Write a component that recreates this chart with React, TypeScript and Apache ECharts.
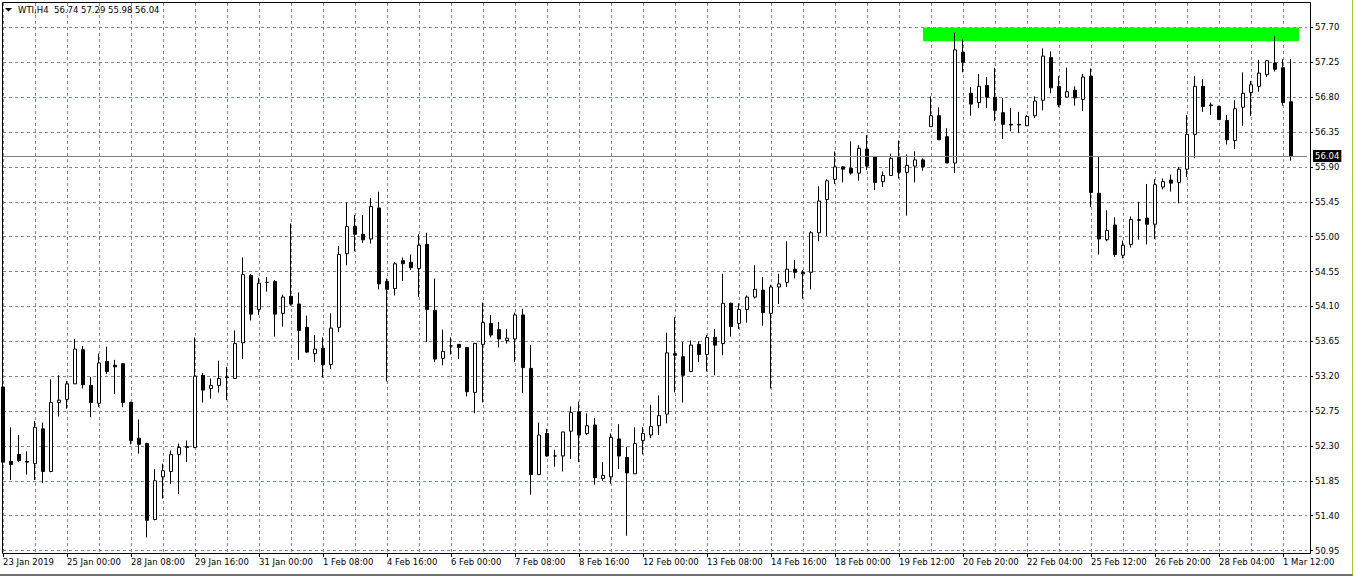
import React, { useEffect, useRef } from 'react';
import * as echarts from 'echarts';

// ---- data ----
const tickLabels = [
  '23 Jan 2019', '25 Jan 00:00', '28 Jan 08:00', '29 Jan 16:00', '31 Jan 00:00',
  '1 Feb 08:00', '4 Feb 16:00', '6 Feb 00:00', '7 Feb 08:00', '8 Feb 16:00',
  '12 Feb 00:00', '13 Feb 08:00', '14 Feb 16:00', '18 Feb 00:00', '19 Feb 12:00',
  '20 Feb 20:00', '22 Feb 04:00', '25 Feb 12:00', '26 Feb 20:00', '28 Feb 04:00',
  '1 Mar 12:00',
];

const opens = [
  53.06, 52.10, 52.19, 52.10, 52.07, 52.52, 51.97, 52.86, 52.90, 53.10,
  53.54, 53.08, 52.85, 53.39, 53.34, 53.36, 52.86, 52.40, 52.33, 51.35,
  51.90, 51.97, 52.19, 52.28, 52.28, 53.21, 53.04, 53.08, 53.18, 53.17,
  53.63, 54.50, 54.06, 54.41, 54.42, 54.01, 54.23, 54.13, 53.83, 53.49,
  53.56, 53.35, 53.83, 54.78, 55.13, 55.03, 54.97, 55.37, 54.42, 54.33,
  54.69, 54.67, 54.59, 54.90, 54.05, 53.43, 53.59, 53.61, 53.57, 52.99,
  53.61, 53.88, 53.80, 53.66, 53.68, 53.99, 53.30, 51.93, 52.46, 52.17,
  52.17, 52.49, 52.74, 52.46, 52.57, 51.88, 51.90, 52.39, 52.15, 51.94,
  52.37, 52.44, 52.56, 52.71, 53.49, 53.45, 53.26, 53.61, 53.48, 53.70,
  53.62, 54.14, 53.88, 54.06, 54.22, 54.31, 54.01, 54.35, 54.41, 54.58,
  54.54, 54.54, 55.05, 55.48, 55.74, 55.90, 55.88, 55.82, 56.13, 56.03,
  55.71, 55.79, 56.02, 55.83, 55.91, 55.99, 56.42, 56.56, 56.29, 55.95,
  57.38, 56.85, 56.73, 56.95, 56.80, 56.60, 56.45, 56.44, 56.43, 56.56,
  56.76, 57.31, 56.94, 56.80, 56.89, 56.77, 57.07, 55.56, 54.96, 55.15,
  54.76, 54.90, 55.21, 55.24, 55.16, 55.64, 55.73, 55.70, 55.87, 56.32,
  56.94, 56.70, 56.68, 56.50, 56.24, 56.67, 56.86, 56.94, 57.09, 57.24,
  57.18, 56.74,
];
const highs = [
  53.08, 52.54, 52.44, 52.23, 52.62, 52.60, 53.16, 53.21, 53.14, 53.68,
  53.59, 53.19, 53.49, 53.58, 53.41, 53.37, 52.87, 52.64, 52.34, 52.00,
  52.07, 52.24, 52.33, 52.37, 53.70, 53.24, 53.17, 53.40, 53.32, 53.79,
  54.73, 54.52, 54.47, 54.48, 54.44, 54.25, 55.17, 54.28, 53.98, 53.73,
  53.70, 54.01, 54.88, 55.44, 55.28, 55.28, 55.50, 55.58, 54.46, 54.67,
  54.73, 54.77, 55.03, 55.05, 54.46, 53.80, 53.70, 53.61, 53.57, 53.63,
  54.15, 53.99, 53.90, 53.81, 54.02, 54.07, 53.60, 52.60, 52.52, 52.25,
  52.48, 52.81, 52.87, 52.72, 52.66, 52.09, 52.46, 52.58, 52.29, 52.54,
  52.54, 52.83, 52.95, 53.76, 53.96, 53.64, 53.66, 53.65, 53.73, 53.81,
  54.52, 54.15, 54.14, 54.24, 54.63, 54.48, 54.38, 54.52, 54.94, 54.70,
  54.57, 55.07, 55.65, 55.74, 56.10, 55.91, 56.23, 56.18, 56.31, 56.03,
  55.84, 56.07, 56.24, 56.06, 56.10, 56.01, 56.81, 56.67, 56.40, 57.63,
  57.55, 56.93, 57.10, 57.06, 57.18, 56.79, 56.66, 56.61, 56.57, 56.81,
  57.43, 57.39, 57.07, 57.18, 56.94, 57.10, 57.17, 56.04, 55.34, 55.25,
  54.95, 55.26, 55.45, 55.68, 55.74, 55.75, 55.80, 55.90, 56.57, 57.07,
  57.03, 56.73, 56.69, 56.57, 56.76, 57.12, 57.01, 57.28, 57.28, 57.59,
  57.29, 57.29,
];
const lows = [
  51.58, 51.86, 52.09, 51.93, 51.86, 51.82, 51.96, 52.68, 52.78, 53.10,
  53.04, 52.67, 52.80, 53.23, 52.97, 52.80, 52.32, 52.20, 51.12, 51.34,
  51.62, 51.81, 51.68, 52.09, 52.27, 52.86, 52.91, 52.99, 52.89, 53.17,
  53.42, 53.92, 53.99, 54.29, 53.71, 53.84, 54.11, 53.41, 53.50, 53.38,
  53.18, 53.29, 53.77, 54.63, 54.81, 54.92, 54.91, 54.32, 53.13, 54.24,
  54.43, 54.57, 54.22, 53.64, 53.38, 53.34, 53.48, 53.42, 52.94, 52.72,
  52.86, 53.70, 53.57, 53.62, 53.38, 52.98, 51.67, 51.93, 52.16, 52.03,
  51.97, 52.13, 52.09, 52.44, 51.80, 51.85, 51.81, 52.00, 51.14, 51.94,
  52.19, 52.40, 52.44, 52.59, 52.99, 52.86, 53.25, 53.38, 53.26, 53.21,
  53.47, 53.71, 53.81, 53.89, 54.20, 53.85, 53.04, 54.13, 54.35, 54.46,
  54.20, 54.32, 54.94, 55.01, 55.68, 55.70, 55.80, 55.72, 55.86, 55.60,
  55.64, 55.79, 55.75, 55.27, 55.70, 55.85, 56.42, 56.25, 55.95, 55.82,
  57.12, 56.56, 56.66, 56.66, 56.49, 56.26, 56.36, 56.34, 56.43, 56.53,
  56.63, 56.85, 56.67, 56.80, 56.69, 56.62, 55.38, 54.77, 54.94, 54.74,
  54.72, 54.86, 54.96, 54.90, 54.97, 55.61, 55.58, 55.43, 55.77, 56.01,
  56.61, 56.57, 56.51, 56.19, 56.13, 56.43, 56.56, 56.87, 57.06, 57.13,
  56.69, 55.98,
];
const closes = [
  52.09, 52.06, 52.11, 52.09, 52.54, 51.97, 52.86, 52.89, 53.10, 53.55,
  53.09, 52.86, 53.37, 53.26, 53.32, 52.86, 52.37, 52.32, 51.34, 51.85,
  51.98, 52.19, 52.28, 52.29, 53.20, 53.02, 53.08, 53.17, 53.19, 53.62,
  54.51, 54.00, 54.40, 54.41, 54.00, 54.22, 54.13, 53.79, 53.51, 53.55,
  53.35, 53.82, 54.77, 55.13, 55.03, 54.96, 55.39, 54.39, 54.32, 54.65,
  54.65, 54.60, 54.89, 54.06, 53.42, 53.52, 53.59, 53.57, 53.00, 53.62,
  53.89, 53.73, 53.68, 53.69, 53.99, 53.31, 51.93, 52.44, 52.17, 52.17,
  52.48, 52.73, 52.44, 52.56, 51.89, 51.92, 52.41, 52.17, 51.95, 52.33,
  52.46, 52.55, 52.69, 53.50, 53.47, 53.21, 53.60, 53.48, 53.70, 53.60,
  54.14, 53.84, 54.06, 54.22, 54.32, 54.02, 54.35, 54.39, 54.58, 54.54,
  54.52, 55.05, 55.46, 55.72, 55.90, 55.87, 55.82, 56.14, 55.91, 55.70,
  55.79, 56.01, 55.83, 55.92, 55.99, 55.90, 56.56, 56.25, 55.95, 57.41,
  57.25, 56.71, 56.94, 56.80, 56.63, 56.45, 56.44, 56.45, 56.55, 56.75,
  57.33, 56.92, 56.70, 56.87, 56.79, 57.06, 55.57, 54.97, 55.08, 54.77,
  54.89, 55.22, 55.22, 55.16, 55.67, 55.71, 55.69, 55.87, 56.32, 56.94,
  56.68, 56.69, 56.51, 56.25, 56.65, 56.85, 56.96, 57.11, 57.27, 57.16,
  56.73, 56.04,
];

const symbolTitle = 'WTI,H4';
const lastPrice = 56.04;
const priceMin = 50.95;
const priceMax = 57.7;
const priceStep = 0.45;
const zoneLow = 57.52;
const zoneHigh = 57.7;
const zoneStartIndex = 115;
const zoneEndIndex = 162;
const slotCount = 164; // 162 bars + 2 empty slots on the right

export default function App() {
  const ref = useRef<HTMLDivElement>(null);

  useEffect(() => {
    if (!ref.current) return;
    const chart = echarts.init(ref.current, undefined, { renderer: 'svg' });

    const categories = Array.from({ length: slotCount }, (_, k) =>
      k % 8 === 0 && tickLabels[k / 8] ? tickLabels[k / 8] : 'c' + k
    );
    const candleData = opens.map((o, i) => [o, closes[i], lows[i], highs[i]]);
    const font = 'DejaVu Sans';
    const gridColor = '#778899';
    const titleText =
      symbolTitle + '  ' + [opens[opens.length - 1], highs[highs.length - 1], lows[lows.length - 1], closes[closes.length - 1]]
        .map((v) => v.toFixed(2))
        .join(' ');

    chart.setOption({
      animation: false,
      backgroundColor: '#ffffff',
      grid: [
        { left: 3, top: 3, width: 1304, height: 550 },
        { left: 3, top: 27.4, width: 1304, height: 523.1 },
      ],
      xAxis: [
        {
          type: 'category',
          gridIndex: 0,
          data: categories,
          boundaryGap: false,
          axisLine: { show: false },
          axisTick: { show: true, interval: 7, length: 4, lineStyle: { color: '#000' } },
          axisLabel: {
            interval: 7,
            margin: 4,
            align: 'left',
            color: '#000',
            fontFamily: font,
            fontSize: 8.5,
            formatter: (v: string) => (v.charAt(0) === 'c' ? '' : v),
          },
          splitLine: { show: true, interval: 3, lineStyle: { color: gridColor, type: [3, 3], width: 1 } },
        },
        {
          type: 'category',
          gridIndex: 1,
          data: categories,
          boundaryGap: false,
          show: false,
        },
      ],
      yAxis: [
        { type: 'value', gridIndex: 0, show: false, min: 0, max: 1, splitLine: { show: false } },
        {
          type: 'value',
          gridIndex: 1,
          position: 'right',
          offset: 3,
          min: priceMin,
          max: priceMax,
          interval: priceStep,
          axisLine: { show: false },
          axisTick: { show: true, length: 3, lineStyle: { color: '#000' } },
          axisLabel: {
            margin: 5,
            color: '#000',
            fontFamily: font,
            fontSize: 8.5,
            formatter: (v: number) => v.toFixed(2),
          },
          splitLine: { show: true, lineStyle: { color: gridColor, type: [3, 3], width: 1 } },
        },
      ],
      series: [
        {
          type: 'line',
          xAxisIndex: 1,
          yAxisIndex: 1,
          data: [],
          z: 1,
          silent: true,
          markArea: {
            silent: true,
            itemStyle: { color: '#00ff00', opacity: 1 },
            data: [[
              { xAxis: categories[zoneStartIndex], yAxis: zoneLow },
              { xAxis: categories[zoneEndIndex], yAxis: zoneHigh },
            ]],
          },
          markLine: {
            silent: true,
            symbol: ['none', 'none'],
            lineStyle: { color: '#808080', type: 'solid', width: 1 },
            label: {
              show: true,
              position: 'end',
              distance: 6,
              formatter: lastPrice.toFixed(2),
              color: '#fff',
              backgroundColor: '#000',
              padding: [2, 2, 1, 2],
              fontFamily: font,
              fontSize: 8.5,
            },
            data: [{ yAxis: lastPrice }],
          },
        },
        {
          type: 'candlestick',
          xAxisIndex: 1,
          yAxisIndex: 1,
          data: candleData,
          barWidth: 4,
          clip: false,
          z: 3,
          itemStyle: {
            color: '#ffffff',
            color0: '#000000',
            borderColor: '#000000',
            borderColor0: '#000000',
            borderColorDoji: '#000000',
            borderWidth: 1,
          },
        },
      ],
      graphic: [
        {
          type: 'rect',
          z: 100,
          silent: true,
          shape: { x: 2.5, y: 2.5, width: 1308, height: 551 },
          style: { fill: 'none', stroke: '#000', lineWidth: 1 },
        },
        {
          type: 'polygon',
          z: 100,
          silent: true,
          shape: { points: [[5, 8], [12, 8], [8.5, 11.5]] },
          style: { fill: '#000' },
        },
        {
          type: 'text',
          z: 100,
          silent: true,
          x: 18,
          y: 10,
          style: { text: titleText, fill: '#000', fontSize: 8.5, fontFamily: font, verticalAlign: 'middle' },
        },
        {
          type: 'line',
          silent: true,
          shape: { x1: 0, y1: 575, x2: 1353, y2: 575 },
          style: { stroke: '#707070', lineWidth: 2 },
        },
        {
          type: 'line',
          silent: true,
          shape: { x1: 1352.5, y1: 0, x2: 1352.5, y2: 575 },
          style: { stroke: '#9acd32', lineWidth: 1 },
        },
      ],
    });

    return () => chart.dispose();
  }, []);

  return (
    <div
      ref={ref}
      style={{ position: 'fixed', left: 0, top: 0, width: 1356, height: 580, background: '#fff' }}
    />
  );
}
